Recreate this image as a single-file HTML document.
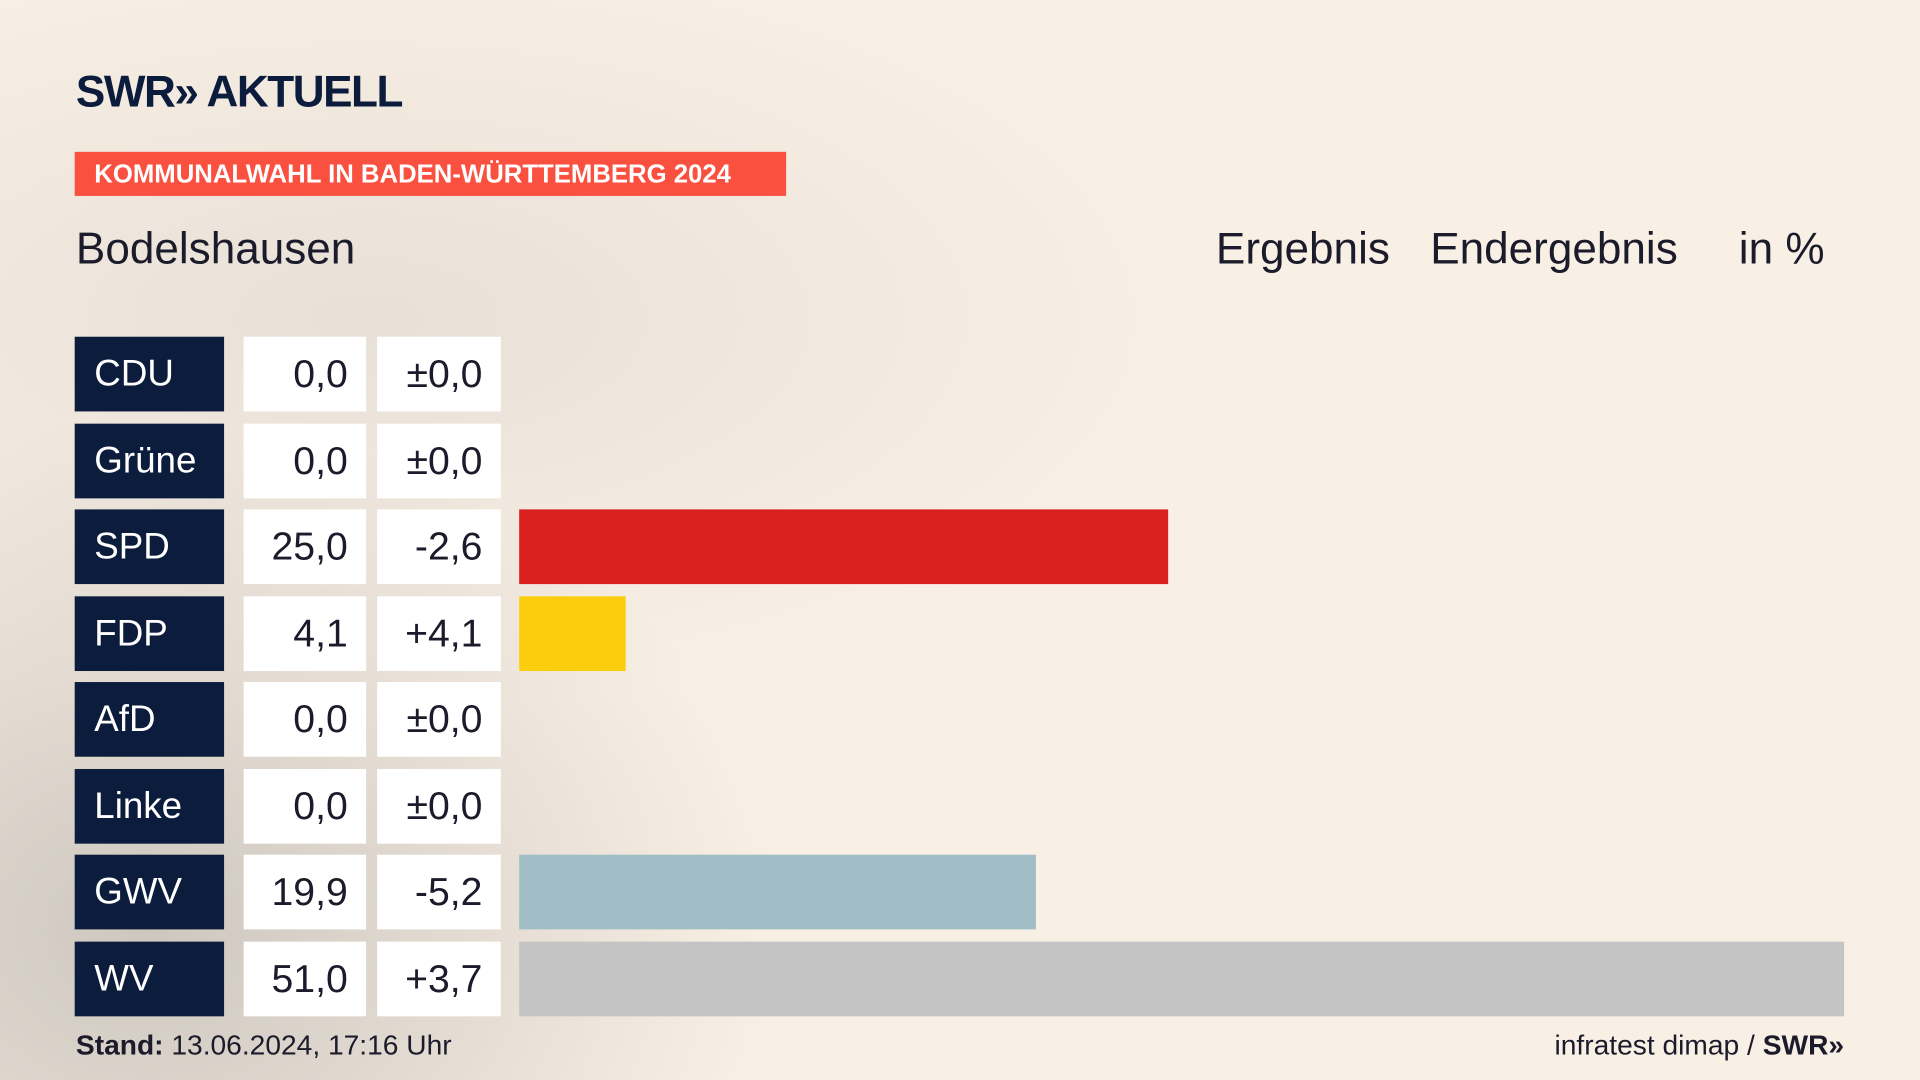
<!DOCTYPE html>
<html><head><meta charset="utf-8">
<style>
html,body{margin:0;padding:0;width:1920px;height:1080px;overflow:hidden;background:#f8efe4;}
#stage{position:absolute;left:0;top:0;width:1568px;height:882px;transform:scale(1.22449);transform-origin:0 0;
background:
radial-gradient(ellipse 520px 420px at 120px 760px, rgba(170,165,160,0.55), rgba(170,165,160,0) 100%),
radial-gradient(ellipse 700px 320px at 300px 260px, rgba(200,195,188,0.35), rgba(200,195,188,0) 100%),
#f9f0e5;
font-family:"Liberation Sans",sans-serif;color:#0c1c3c;}
.abs{position:absolute;}
.logo{left:62px;top:54px;font-size:36px;font-weight:bold;letter-spacing:-1.2px;}
.banner{left:61px;top:124px;width:581px;height:36px;background:#fa5040;color:#fff;font-weight:bold;font-size:21px;line-height:37px;padding-left:16px;box-sizing:border-box;}
.hdr{top:182px;font-size:36px;color:#1b1b2b;}
.party{left:61px;width:122px;height:61px;background:#0c1c3c;color:#fff;font-size:30px;line-height:61px;padding-left:16px;box-sizing:border-box;}
.val{width:100px;height:61px;background:#fff;font-size:32px;line-height:61px;text-align:right;padding-right:15px;box-sizing:border-box;color:#1b1b2b;}
.bar{left:424px;height:61px;}
.foot{top:840px;font-size:23px;color:#1b1b2b;}
</style></head><body>
<div id="stage">
<div class="abs logo">SWR» AKTUELL</div>
<div class="abs banner">KOMMUNALWAHL IN BADEN-WÜRTTEMBERG 2024</div>
<div class="abs hdr" style="left:62px">Bodelshausen</div>
<div class="abs hdr" style="left:993px">Ergebnis</div>
<div class="abs hdr" style="left:1168px">Endergebnis</div>
<div class="abs hdr" style="left:1420px">in %</div>
<div id="rows"></div>
<div class="abs foot" style="left:62px"><b>Stand:</b> 13.06.2024, 17:16 Uhr</div>
<div class="abs foot" style="right:62px">infratest dimap / <b>SWR»</b></div>
</div>
<script>
const parties=["CDU","Grüne","SPD","FDP","AfD","Linke","GWV","WV"];
const values=[0.0,0.0,25.0,4.1,0.0,0.0,19.9,51.0];
const diffs=["±0,0","±0,0","-2,6","+4,1","±0,0","±0,0","-5,2","+3,7"];
const colors=["#0c1c3c","#46962b","#d8201e","#fccd0c","#009ee0","#be3075","#a1bec6","#c4c4c4"];
const x=v=>v*1082/51.0;
const y=i=>275+i*70.5;
const rows=document.getElementById('rows');
parties.forEach((p,i)=>{
  const top=y(i);
  const a=document.createElement('div');a.className='abs party';a.style.top=top+'px';a.textContent=p;
  
  
  rows.appendChild(a);
  const b=document.createElement('div');b.className='abs val';b.style.left='199px';b.style.top=top+'px';b.textContent=values[i].toFixed(1).replace('.',',');
  
  
  rows.appendChild(b);
  const c=document.createElement('div');c.className='abs val';c.style.left='308px';c.style.width='101px';c.style.top=top+'px';c.textContent=diffs[i];
  
  
  rows.appendChild(c);
  if(values[i]>0){
    const d=document.createElement('div');d.className='abs bar';d.style.top=top+'px';d.style.width=x(values[i])+'px';d.style.background=colors[i];
    
    
    rows.appendChild(d);
  }
});
</script>
</body></html>
